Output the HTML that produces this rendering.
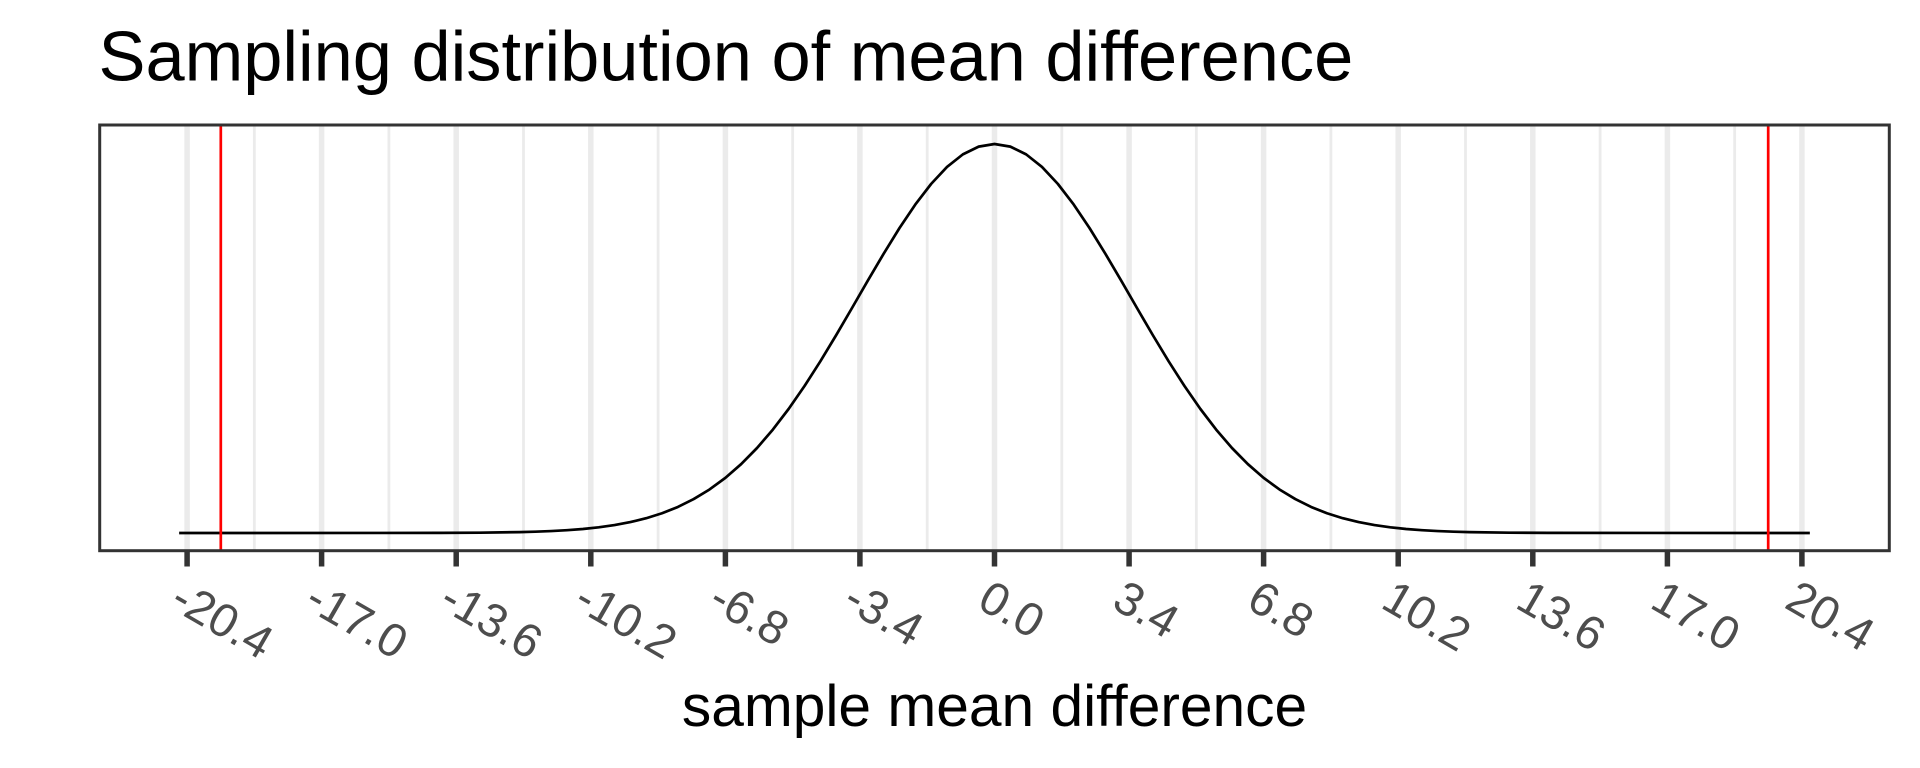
<!DOCTYPE html>
<html>
<head>
<meta charset="utf-8">
<style>
  html,body{margin:0;padding:0;background:#fff;}
  svg{display:block;}
  text{font-family:"Liberation Sans", Arial, Helvetica, sans-serif;}
</style>
</head>
<body>
<svg width="1920" height="768" viewBox="0 0 1920 768" xmlns="http://www.w3.org/2000/svg">
  <rect x="0" y="0" width="1920" height="768" fill="#ffffff"/>

  <!-- minor grid -->
  <g stroke="#ebebeb" stroke-width="2.8">
    <line x1="254.35" y1="125" x2="254.35" y2="550.7"/>
    <line x1="388.9" y1="125" x2="388.9" y2="550.7"/>
    <line x1="523.5" y1="125" x2="523.5" y2="550.7"/>
    <line x1="658.1" y1="125" x2="658.1" y2="550.7"/>
    <line x1="792.65" y1="125" x2="792.65" y2="550.7"/>
    <line x1="927.2" y1="125" x2="927.2" y2="550.7"/>
    <line x1="1061.8" y1="125" x2="1061.8" y2="550.7"/>
    <line x1="1196.35" y1="125" x2="1196.35" y2="550.7"/>
    <line x1="1330.9" y1="125" x2="1330.9" y2="550.7"/>
    <line x1="1465.5" y1="125" x2="1465.5" y2="550.7"/>
    <line x1="1600.1" y1="125" x2="1600.1" y2="550.7"/>
    <line x1="1734.65" y1="125" x2="1734.65" y2="550.7"/>
  </g>
  <!-- major grid -->
  <g stroke="#ebebeb" stroke-width="5.5">
    <line x1="187.1" y1="125" x2="187.1" y2="550.7"/>
    <line x1="321.6" y1="125" x2="321.6" y2="550.7"/>
    <line x1="456.2" y1="125" x2="456.2" y2="550.7"/>
    <line x1="590.8" y1="125" x2="590.8" y2="550.7"/>
    <line x1="725.4" y1="125" x2="725.4" y2="550.7"/>
    <line x1="859.9" y1="125" x2="859.9" y2="550.7"/>
    <line x1="994.5" y1="125" x2="994.5" y2="550.7"/>
    <line x1="1129.1" y1="125" x2="1129.1" y2="550.7"/>
    <line x1="1263.6" y1="125" x2="1263.6" y2="550.7"/>
    <line x1="1398.2" y1="125" x2="1398.2" y2="550.7"/>
    <line x1="1532.8" y1="125" x2="1532.8" y2="550.7"/>
    <line x1="1667.4" y1="125" x2="1667.4" y2="550.7"/>
    <line x1="1801.9" y1="125" x2="1801.9" y2="550.7"/>
  </g>

  <!-- density curve -->
  <polyline fill="none" stroke="#000000" stroke-width="2.7" stroke-linejoin="round"
    points="179.15,533 440.38,532.9 479.96,532.69 519.54,532.11 535.37,531.68 551.2,531.06 567.04,530.18 582.87,528.97 598.7,527.31 614.53,525.08 630.36,522.11 646.2,518.24 662.03,513.26 677.86,506.96 693.69,499.09 709.52,489.47 725.36,477.85 741.19,464.07 757.02,448.0 772.85,429.59 788.68,408.88 804.52,386.03 820.35,361.31 836.18,335.12 852.01,308.0 867.84,280.6 883.68,253.67 899.51,228.02 915.34,204.48 931.17,183.88 947.0,166.96 962.84,154.38 978.67,146.62 994.5,144.0 1010.33,146.62 1026.16,154.38 1042.0,166.96 1057.83,183.88 1073.66,204.48 1089.49,228.02 1105.32,253.67 1121.16,280.6 1136.99,308.0 1152.82,335.12 1168.65,361.31 1184.48,386.03 1200.32,408.88 1216.15,429.59 1231.98,448.0 1247.81,464.07 1263.64,477.85 1279.48,489.47 1295.31,499.09 1311.14,506.96 1326.97,513.26 1342.8,518.24 1358.64,522.11 1374.47,525.08 1390.3,527.31 1406.13,528.97 1421.96,530.18 1437.8,531.06 1453.63,531.68 1469.46,532.11 1509.04,532.69 1548.62,532.9 1809.85,533"/>

  <!-- red reference lines -->
  <g stroke="#ff0000" stroke-width="2.7">
    <line x1="220.8" y1="125" x2="220.8" y2="550.7"/>
    <line x1="1768.2" y1="125" x2="1768.2" y2="550.7"/>
  </g>

  <!-- panel border -->
  <rect x="99.7" y="125" width="1789.6" height="425.7" fill="none" stroke="#333333" stroke-width="3"/>

  <!-- ticks -->
  <g stroke="#333333" stroke-width="5.5">
    <line x1="187.1" y1="550.7" x2="187.1" y2="566.5"/>
    <line x1="321.6" y1="550.7" x2="321.6" y2="566.5"/>
    <line x1="456.2" y1="550.7" x2="456.2" y2="566.5"/>
    <line x1="590.8" y1="550.7" x2="590.8" y2="566.5"/>
    <line x1="725.4" y1="550.7" x2="725.4" y2="566.5"/>
    <line x1="859.9" y1="550.7" x2="859.9" y2="566.5"/>
    <line x1="994.5" y1="550.7" x2="994.5" y2="566.5"/>
    <line x1="1129.1" y1="550.7" x2="1129.1" y2="566.5"/>
    <line x1="1263.6" y1="550.7" x2="1263.6" y2="566.5"/>
    <line x1="1398.2" y1="550.7" x2="1398.2" y2="566.5"/>
    <line x1="1532.8" y1="550.7" x2="1532.8" y2="566.5"/>
    <line x1="1667.4" y1="550.7" x2="1667.4" y2="566.5"/>
    <line x1="1801.9" y1="550.7" x2="1801.9" y2="566.5"/>
  </g>

  <!-- tick labels -->
  <g fill="#4d4d4d" font-size="47">
    <g transform="translate(187.1,574) rotate(30)"><text x="0" y="38">-20.4</text></g>
    <g transform="translate(321.6,574) rotate(30)"><text x="0" y="38">-17.0</text></g>
    <g transform="translate(456.2,574) rotate(30)"><text x="0" y="38">-13.6</text></g>
    <g transform="translate(590.8,574) rotate(30)"><text x="0" y="38">-10.2</text></g>
    <g transform="translate(725.4,574) rotate(30)"><text x="0" y="38">-6.8</text></g>
    <g transform="translate(859.9,574) rotate(30)"><text x="0" y="38">-3.4</text></g>
    <g transform="translate(994.5,574) rotate(30)"><text x="0" y="38">0.0</text></g>
    <g transform="translate(1129.1,574) rotate(30)"><text x="0" y="38">3.4</text></g>
    <g transform="translate(1263.6,574) rotate(30)"><text x="0" y="38">6.8</text></g>
    <g transform="translate(1398.2,574) rotate(30)"><text x="0" y="38">10.2</text></g>
    <g transform="translate(1532.8,574) rotate(30)"><text x="0" y="38">13.6</text></g>
    <g transform="translate(1667.4,574) rotate(30)"><text x="0" y="38">17.0</text></g>
    <g transform="translate(1801.9,574) rotate(30)"><text x="0" y="38">20.4</text></g>
  </g>

  <!-- axis title -->
  <text x="994.5" y="726" font-size="58.7" fill="#000000" text-anchor="middle">sample mean difference</text>

  <!-- plot title -->
  <text x="98.5" y="80.5" font-size="70.4" fill="#000000">Sampling distribution of mean difference</text>
</svg>
</body>
</html>
